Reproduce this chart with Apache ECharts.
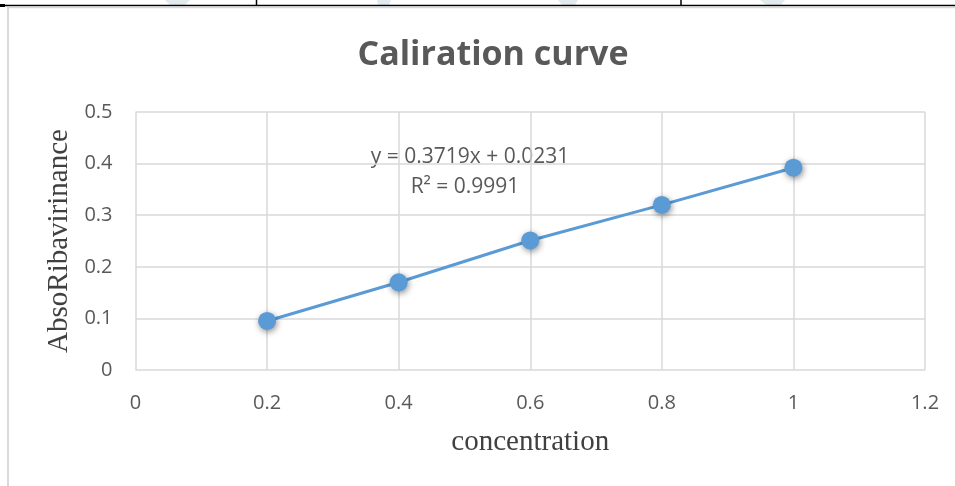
<!DOCTYPE html>
<html>
<head>
<meta charset="utf-8">
<script src="https://cdn.jsdelivr.net/npm/echarts@6/dist/echarts.min.js"></script>
<style>
  html, body { margin: 0; padding: 0; background: #fff; }
  #chart { width: 955px; height: 486px; }
</style>
</head>
<body>
<div id="chart"></div>
<script>
// Calibration data: concentration vs. absorbance
const concentration = [0.2, 0.4, 0.6, 0.8, 1.0];
const absorbance = [0.095, 0.170, 0.251, 0.320, 0.392];
const xTicks = [0, 0.2, 0.4, 0.6, 0.8, 1, 1.2];
const yTicks = [0, 0.1, 0.2, 0.3, 0.4, 0.5];
const equationText = 'y = 0.3719x + 0.0231';
const r2Text = 'R\u00b2 = 0.9991';

const chart = echarts.init(document.getElementById('chart'));
const labelFont = '"Open Sans", "Liberation Sans", sans-serif';
const serifFont = '"Liberation Serif", "DejaVu Serif", serif';

chart.setOption({
  backgroundColor: '#ffffff',
  animation: false,
  title: {
    text: 'Caliration curve',
    left: 488,
    top: 33,
    textAlign: 'center',
    textStyle: { fontFamily: labelFont, fontWeight: 'bold', fontSize: 34, color: '#595959' }
  },
  grid: { left: 135.5, right: 30, top: 112, bottom: 116 },
  xAxis: {
    type: 'value',
    min: xTicks[0],
    max: xTicks[xTicks.length - 1],
    interval: 0.2,
    name: 'concentration',
    nameLocation: 'middle',
    nameGap: 58,
    nameTextStyle: { fontFamily: serifFont, fontSize: 29, color: '#404040' },
    axisLine: { show: false },
    axisTick: { show: false },
    axisLabel: {
      margin: 23,
      fontFamily: labelFont, fontSize: 20, color: '#595959',
      formatter: v => String(Math.round(v * 10) / 10)
    },
    splitLine: { show: true, lineStyle: { color: '#d9d9d9', width: 1.5 } }
  },
  yAxis: {
    type: 'value',
    min: yTicks[0],
    max: yTicks[yTicks.length - 1],
    interval: 0.1,
    name: 'AbsoRibavirinance',
    nameLocation: 'middle',
    nameGap: 61,
    nameTextStyle: { fontFamily: serifFont, fontSize: 29, color: '#404040' },
    axisLine: { show: false },
    axisTick: { show: false },
    axisLabel: {
      margin: 23,
      fontFamily: labelFont, fontSize: 20, color: '#595959',
      formatter: v => String(Math.round(v * 10) / 10)
    },
    splitLine: { show: true, lineStyle: { color: '#d9d9d9', width: 1.5 } }
  },
  series: [
    {
      type: 'line',
      data: concentration.map((c, i) => [c, absorbance[i]]),
      symbol: 'circle',
      symbolSize: 18,
      lineStyle: { color: '#5b9bd5', width: 3 },
      itemStyle: {
        color: '#5b9bd5',
        shadowColor: 'rgba(0,0,0,0.45)',
        shadowBlur: 6,
        shadowOffsetX: 1,
        shadowOffsetY: 2
      },
      z: 3
    }
  ],
  graphic: [
    // faint watermark strokes peeking above the table rule
    { type: 'polygon', z: -10, shape: { points: [[165,0],[190,0],[185,5],[170,5]] }, style: { fill: '#e3eaed' } },
    { type: 'polygon', z: -10, shape: { points: [[377,0],[391,0],[389,5],[378,5]] }, style: { fill: '#e3eaed' } },
    { type: 'polygon', z: -10, shape: { points: [[558,0],[578,0],[575,5],[562,5]] }, style: { fill: '#e3eaed' } },
    { type: 'polygon', z: -10, shape: { points: [[760,0],[785,0],[781,5],[766,5]] }, style: { fill: '#e3eaed' } },
    // table rule above the chart
    { type: 'line', shape: { x1: 0, y1: 5.5, x2: 955, y2: 5.5 }, style: { stroke: '#000', lineWidth: 1.5 } },
    { type: 'line', shape: { x1: 256.5, y1: 0, x2: 256.5, y2: 5 }, style: { stroke: '#000', lineWidth: 1.5 } },
    { type: 'line', shape: { x1: 681, y1: 0, x2: 681, y2: 5 }, style: { stroke: '#000', lineWidth: 1.5 } },
    { type: 'rect', shape: { x: 0, y: 4, width: 5, height: 3 }, style: { fill: '#000' } },
    // light chart frame
    { type: 'line', shape: { x1: 8, y1: 7.5, x2: 955, y2: 7.5 }, style: { stroke: '#d9d9d9', lineWidth: 1.5 } },
    { type: 'line', shape: { x1: 8, y1: 7, x2: 8, y2: 486 }, style: { stroke: '#d9d9d9', lineWidth: 2 } },
    // trendline equation
    {
      type: 'text',
      x: 470, y: 157,
      style: { text: equationText, fontFamily: labelFont, fontSize: 21, fill: '#595959', textAlign: 'center', textVerticalAlign: 'middle' }
    },
    {
      type: 'text',
      x: 465, y: 187,
      style: { text: r2Text, fontFamily: labelFont, fontSize: 21, fill: '#595959', textAlign: 'center', textVerticalAlign: 'middle' }
    }
  ]
});
</script>
</body>
</html>
